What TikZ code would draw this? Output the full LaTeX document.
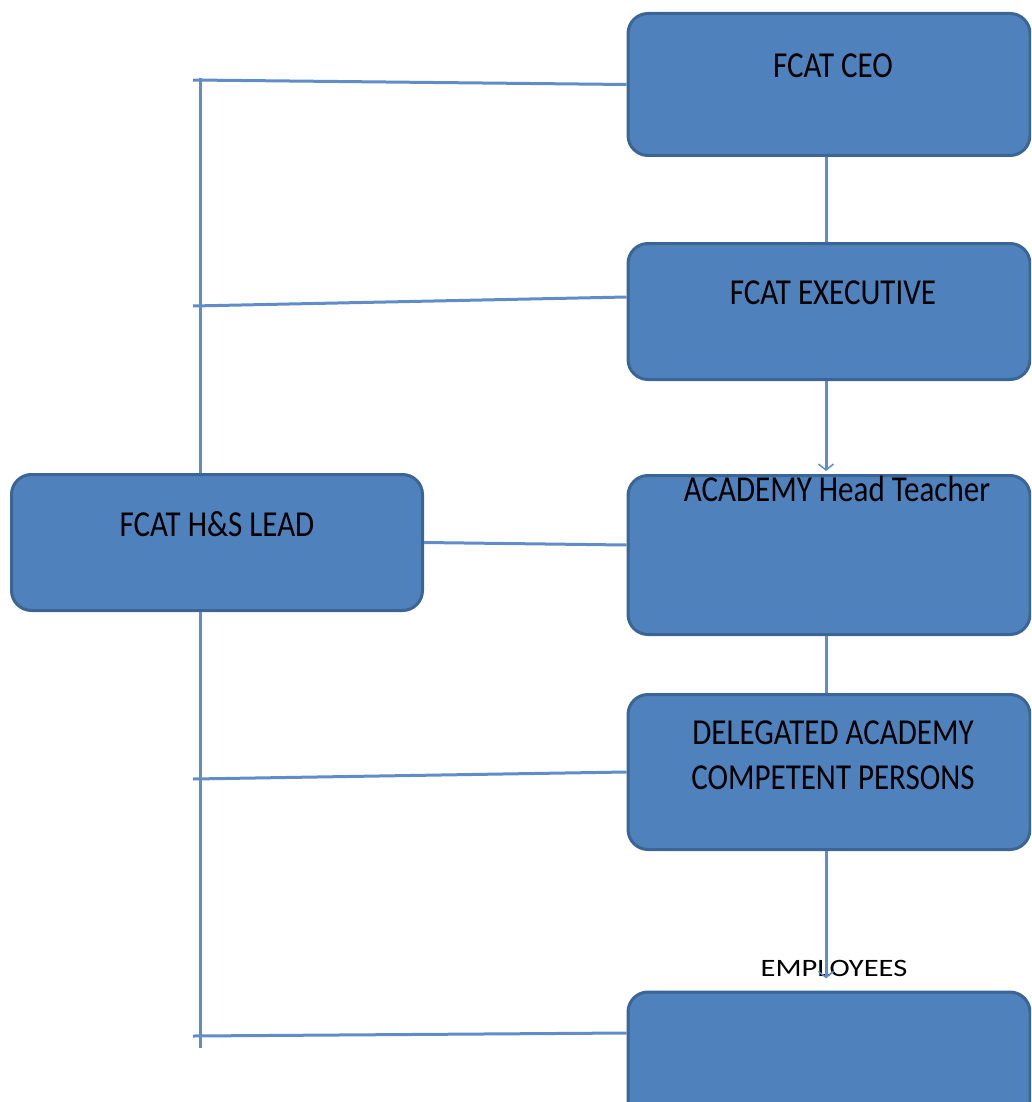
\documentclass[tikz,border=0pt]{standalone}
\usepackage{fontspec}
\setmainfont{Carlito}
\usetikzlibrary{arrows.meta}
\definecolor{boxfill}{HTML}{4F81BD}
\definecolor{boxline}{HTML}{3B6594}
\definecolor{linkblue}{HTML}{608DC7}
\newcommand{\tallbox}[1]{\scalebox{1}[1.18]{#1}}
\begin{document}
\begin{tikzpicture}[x=1pt, y=-1pt,
  orgbox/.style={draw=boxline, fill=boxfill, line width=3pt, rounded corners=20pt, minimum width=402pt},
  boxtext/.style={font=\fontsize{31}{45}\selectfont, align=center, inner sep=0pt},
  conn/.style={draw=linkblue, line width=3pt},
  connarrow/.style={conn, -{Straight Barb[length=6pt, width=15pt, line width=1.5pt]}}]

\useasboundingbox (0,0) rectangle (1031,1102);
\clip (0,0) rectangle (1031,1102);

% --- Right column ---
\node (ceo) [orgbox, minimum height=142pt] at (829,84.5) {};
\node (exec) [orgbox, minimum height=136pt] at (829,311.5) {};
\node (head) [orgbox, minimum height=159pt] at (829,555) {};
\node (deleg) [orgbox, minimum height=155pt] at (829,772) {};
\node (emp) [orgbox, minimum height=136pt] at (829,1060) {};

\node (ceo_text) [boxtext] at (833,66) {\tallbox{FCAT CEO}};
\node (exec_text) [boxtext] at (833,293) {\tallbox{FCAT EXECUTIVE}};
\node (head_text) [boxtext] at (837,489) {\tallbox{ACADEMY Head Teacher}};
\node (deleg_text) [boxtext] at (833,755) {\tallbox{DELEGATED ACADEMY}\\\tallbox{COMPETENT PERSONS}};
\node (emp_label) [boxtext, font=\fontsize{25}{30}\selectfont, inner sep=2pt] at (834,968) {\scalebox{1.22}[1]{EMPLOYEES}};

% --- Left box ---
\node (hs) [orgbox, minimum width=411pt, minimum height=136pt] at (217,542.5) {};
\node (hs_text) [boxtext] at (217,524) {\tallbox{FCAT H\&S LEAD}};

% --- Left bar ---
\coordinate (bar_top) at (200,78);
\coordinate (bar_bot) at (200,1048);
\coordinate (tick_ceo) at (193,80);
\coordinate (tick_exec) at (193,306);
\coordinate (tick_deleg) at (193,779);
\coordinate (tick_emp) at (193,1036);

\draw[conn] (bar_top) -- (bar_top |- hs.north);
\draw[conn] (bar_bot |- hs.south) -- (bar_bot);
\draw[conn] (tick_ceo) -- (ceo.west);
\draw[conn] (tick_exec) -- ([yshift=14.5pt]exec.west);
\draw[conn] (tick_deleg) -- (deleg.west);
\draw[conn] (tick_emp) -- ([yshift=27pt]emp.west);
\draw[conn] ([yshift=10pt]head.west) -- (hs.east);

% --- Chain of command ---
\draw[conn] ([xshift=-3pt]ceo.south) -- ([xshift=-3pt]exec.north);
\draw[connarrow] ([xshift=-3pt]exec.south) -- ([xshift=-3pt, yshift=3pt]head.north);
\draw[conn] ([xshift=-3pt]head.south) -- ([xshift=-3pt]deleg.south |- deleg.north);
\draw[connarrow] ([xshift=-3pt]deleg.south) -- ([xshift=-3pt]deleg.south |- emp_label.south);

\end{tikzpicture}
\end{document}
